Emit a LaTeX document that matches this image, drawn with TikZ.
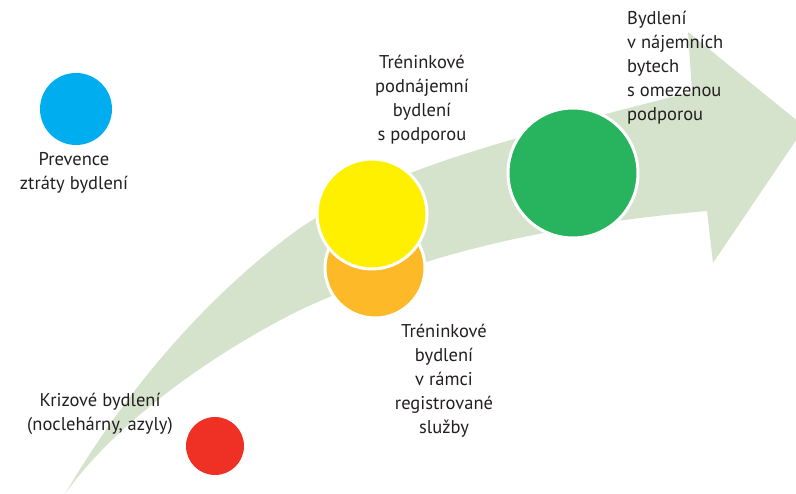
\documentclass[tikz,border=0pt]{standalone}
\usepackage{fontspec}
\setmainfont{PT Sans}
\definecolor{arrowgreen}{HTML}{D5E3CC}
\definecolor{cblue}{HTML}{00AEEF}
\definecolor{cred}{HTML}{EE3124}
\definecolor{cyellow}{HTML}{FFF000}
\definecolor{corange}{HTML}{FDB927}
\definecolor{cgreen}{HTML}{28B35E}
\definecolor{txt}{HTML}{231F20}
\begin{document}
\begin{tikzpicture}[x=1pt,y=-1pt,
  dot/.style={circle,inner sep=0pt,minimum size=#1},
  ring/.style={draw=white,line width=3pt},
  lbl/.style={inner sep=0pt,text=txt,font=\fontsize{18.5}{24}\selectfont}]
\useasboundingbox (0,0) rectangle (796,494);
% arrow
\fill[arrowgreen] (65,494) .. controls (120,400) and (200,300) .. (300,228)
  .. controls (380,175) and (480,145) .. (692,92)
  -- (688,32) -- (805,127) -- (713,263) -- (707,211)
  .. controls (560,224) and (430,250) .. (300,310)
  .. controls (200,360) and (110,430) .. (65,494) -- cycle;
% circles
\node[dot=72pt,fill=cblue] (blue) at (76,109) {};
\node[dot=58pt,fill=cred] (red) at (215,446) {};
\node[dot=100pt,fill=corange,ring] (orange) at (375,268) {};
\node[dot=110pt,fill=cyellow,ring] (yellow) at (372,214) {};
\node[dot=130pt,fill=cgreen,ring] (green) at (573,173) {};
% labels
\node[lbl,align=center] (tprev) at (74,173) {Prevence\\ztráty bydlení};
\node[lbl,align=center] (tkriz) at (100,414) {Krizové bydlení\\(noclehárny, azyly)};
\node[lbl,align=center] (ttpod) at (422,100) {Tréninkové\\podnájemní\\bydlení\\s podporou};
\node[lbl,align=center] (ttreg) at (444,381) {Tréninkové\\bydlení\\v rámci\\registrované\\služby};
\node[lbl,align=left,anchor=west] (tnaj) at (627,68) {Bydlení\\v nájemních\\bytech\\s omezenou\\podporou};
\end{tikzpicture}
\end{document}
